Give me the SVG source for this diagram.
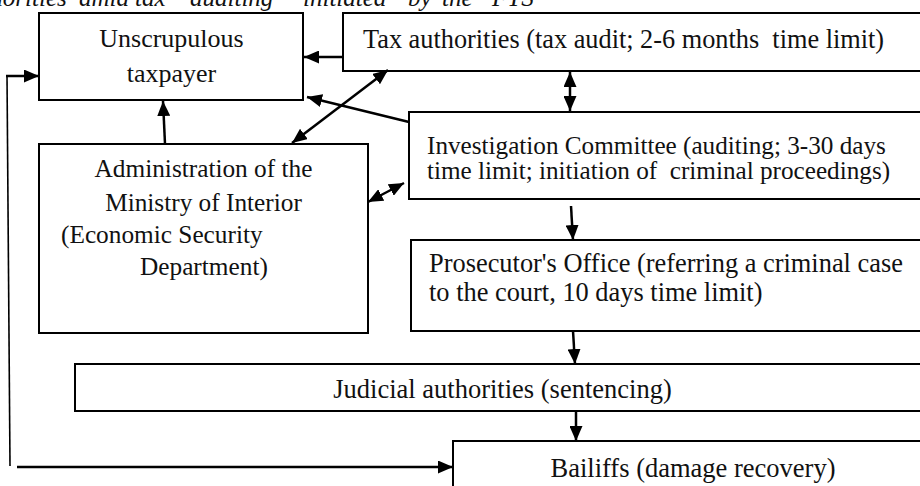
<svg xmlns="http://www.w3.org/2000/svg" width="920" height="486" viewBox="0 0 920 486">
<style>
  .box{fill:#fff;stroke:#000;stroke-width:2}
  .t{font-family:"Liberation Serif","Times New Roman",serif;fill:#111}
  .c{stroke:#000;stroke-width:2.5;fill:none}
  .thin{stroke:#000;stroke-width:1.6;fill:none}
</style>
<defs>
  <marker id="ah" markerUnits="userSpaceOnUse" markerWidth="15" markerHeight="13" refX="15" refY="6.5" orient="auto-start-reverse">
    <path d="M0,0 L15,6.5 L0,13 z" fill="#000"/>
  </marker>
</defs>
<rect width="920" height="486" fill="#fff"/>
<text class="t" y="6" font-size="25" font-style="italic"><tspan x="73" text-anchor="end">horities </tspan><tspan x="79">amid </tspan><tspan x="135">tax </tspan><tspan x="190">auditing </tspan><tspan x="303">initiated </tspan><tspan x="408">by </tspan><tspan x="442">the </tspan><tspan x="492">FTS</tspan></text>

<g id="taxpayer">
  <rect class="box" x="39" y="13" width="264" height="87"/>
  <text class="t" font-size="26" text-anchor="middle"><tspan x="171.5" y="47">Unscrupulous</tspan><tspan x="171.5" y="82">taxpayer</tspan></text>
</g>
<g id="tax-authorities">
  <rect class="box" x="343" y="13" width="590" height="58"/>
  <text class="t" x="363" y="48" font-size="26.3" xml:space="preserve">Tax authorities (tax audit; 2-6 months  time limit)</text>
</g>
<g id="investigation-committee">
  <rect class="box" x="409" y="112" width="530" height="87"/>
  <text class="t" font-size="25.2" xml:space="preserve"><tspan x="427" y="154">Investigation Committee (auditing; 3-30 days</tspan><tspan x="427" y="179">time limit; initiation of  criminal proceedings)</tspan></text>
</g>
<g id="ministry-interior">
  <rect class="box" x="39" y="144" width="329" height="189"/>
  <text class="t" font-size="25.3"><tspan x="203.5" y="177" text-anchor="middle">Administration of the</tspan><tspan x="203.5" y="211" text-anchor="middle">Ministry of Interior</tspan><tspan x="61" y="243">(Economic Security</tspan><tspan x="140" y="275">Department)</tspan></text>
</g>
<g id="prosecutor">
  <rect class="box" x="411" y="240" width="530" height="91"/>
  <text class="t" font-size="26.4"><tspan x="429" y="272">Prosecutor's Office (referring a criminal case</tspan><tspan x="429" y="301">to the court, 10 days time limit)</tspan></text>
</g>
<g id="judicial">
  <rect class="box" x="75" y="364" width="870" height="47"/>
  <text class="t" x="502.5" y="398" font-size="26.5" text-anchor="middle">Judicial authorities (sentencing)</text>
</g>
<g id="bailiffs">
  <rect class="box" x="453" y="441" width="490" height="60"/>
  <text class="t" x="693" y="477" font-size="26.5" text-anchor="middle">Bailiffs (damage recovery)</text>
</g>

<g id="connectors">
  <line class="c" x1="343" y1="57" x2="304" y2="57" marker-end="url(#ah)"/>
  <line class="c" x1="570" y1="72" x2="570" y2="111" marker-start="url(#ah)" marker-end="url(#ah)"/>
  <line class="c" x1="409" y1="122" x2="307" y2="97" marker-end="url(#ah)"/>
  <line class="c" x1="292" y1="143" x2="388" y2="70" marker-start="url(#ah)" marker-end="url(#ah)"/>
  <line class="c" x1="165" y1="144" x2="163" y2="101" marker-end="url(#ah)"/>
  <line class="c" x1="368" y1="202" x2="404" y2="183" marker-start="url(#ah)" marker-end="url(#ah)"/>
  <line class="c" x1="571" y1="206" x2="573" y2="240" marker-end="url(#ah)"/>
  <line class="c" x1="573" y1="331" x2="575" y2="364" marker-end="url(#ah)"/>
  <line class="c" x1="576" y1="411" x2="576" y2="441" marker-end="url(#ah)"/>
  <line class="thin" x1="10" y1="466" x2="7" y2="75"/>
  <line class="c" x1="6" y1="76" x2="39" y2="76" marker-end="url(#ah)"/>
  <line class="c" x1="17" y1="467" x2="453" y2="467" marker-end="url(#ah)"/>
</g>
</svg>
